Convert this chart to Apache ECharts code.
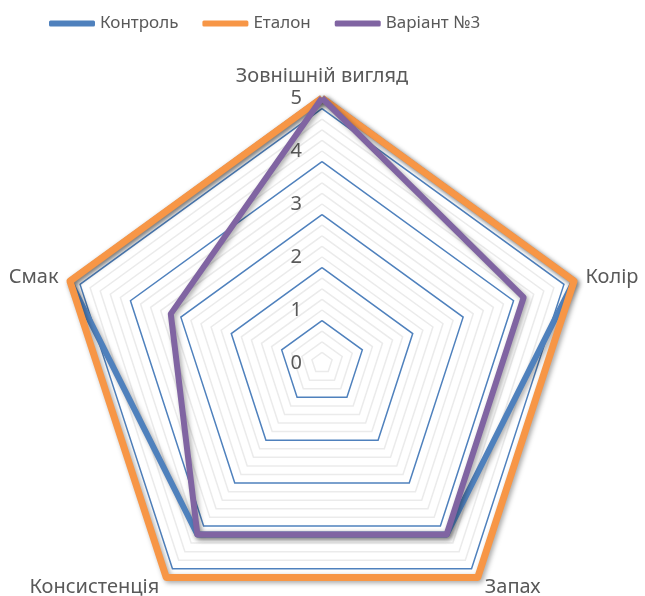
<!DOCTYPE html>
<html>
<head>
<meta charset="utf-8">
<script src="https://cdn.jsdelivr.net/npm/echarts@6/dist/echarts.min.js"></script>
<style>
  html, body { margin: 0; padding: 0; background: #fff; }
  #chart { width: 645px; height: 596px; }
</style>
</head>
<body>
<div id="chart"></div>
<script>
// clockwise from the top
const indicators = ['Зовнішній вигляд', 'Колір', 'Запах', 'Консистенція', 'Смак'];
const seriesNames = ['Контроль', 'Еталон', 'Варіант №3'];
const kontrol = [5, 5, 4, 4, 5];
const etalon = [5, 5, 5, 5, 5];
const variant3 = [5, 4, 4, 4, 3];
const maxValue = 5;

const colors = ['#4F81BD', '#F79646', '#8064A2'];
const font = 'Noto Sans';

// echarts radar goes counter-clockwise, so flip the order (keep the top one first)
function cw(arr) {
  return [arr[0]].concat(arr.slice(1).reverse());
}

// 5 minor rings per unit, every 5th ring is a major (blue) line
const ringColors = [];
for (let i = 0; i < 25; i++) {
  ringColors.push((i + 1) % 5 === 0 ? '#4F81BD' : '#ebebeb');
}

const chart = echarts.init(document.getElementById('chart'));
const shadow = {
  shadowColor: 'rgba(0,0,0,0.35)',
  shadowBlur: 5,
  shadowOffsetX: 2,
  shadowOffsetY: 2
};

chart.setOption({
  backgroundColor: '#fff',
  color: colors,
  animation: false,
  legend: {
    top: 10,
    left: 44,
    itemWidth: 46,
    itemHeight: 6,
    itemGap: 24,
    icon: 'roundRect',
    data: seriesNames,
    textStyle: { fontFamily: font, fontSize: 17, color: '#595959' }
  },
  radar: {
    center: [322, 363],
    radius: 265,
    startAngle: 90,
    splitNumber: 25,
    shape: 'polygon',
    indicator: cw(indicators).map((name, i) => ({
      name: name,
      min: 0,
      max: maxValue,
      axisLabel: { show: i === 0 }
    })),
    axisName: { color: '#595959', fontFamily: font, fontSize: 20 },
    nameGap: 12,
    axisLine: { show: false },
    axisTick: { show: false },
    axisLabel: {
      show: false,
      margin: 20,
      color: '#595959',
      fontFamily: font,
      fontSize: 20,
      formatter: v => Math.abs(v - Math.round(v)) < 1e-6 ? String(Math.round(v)) : ''
    },
    splitArea: { show: false },
    splitLine: { lineStyle: { color: ringColors, width: 1.5 } }
  },
  series: [{
    type: 'radar',
    symbol: 'none',
    data: [
      { name: seriesNames[0], value: cw(kontrol), lineStyle: Object.assign({ width: 6, color: colors[0] }, shadow) },
      { name: seriesNames[1], value: cw(etalon), lineStyle: Object.assign({ width: 7, color: colors[1] }, shadow) },
      { name: seriesNames[2], value: cw(variant3), lineStyle: Object.assign({ width: 6, color: colors[2] }, shadow) }
    ]
  }]
});
</script>
</body>
</html>
